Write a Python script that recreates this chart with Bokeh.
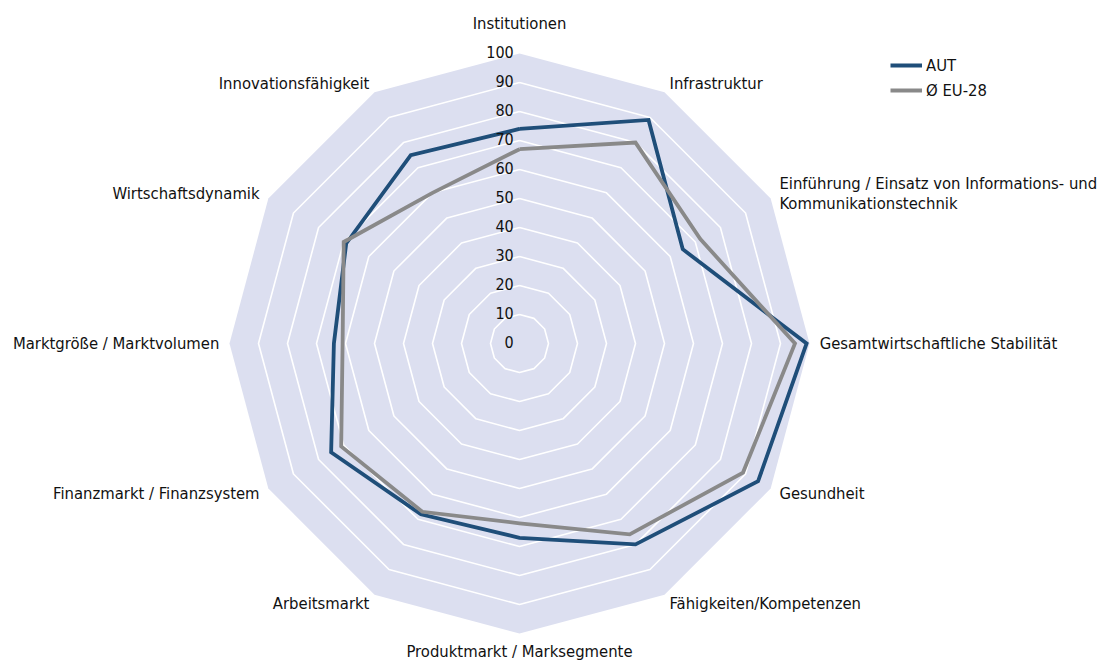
import numpy as np
from bokeh.plotting import figure
from bokeh.models import Range1d, Legend, LegendItem
from bokeh.core.properties import value
from bokeh.embed import file_html
from bokeh.resources import INLINE

categories = [
    "Institutionen",
    "Infrastruktur",
    "Einführung / Einsatz von Informations- und\n Kommunikationstechnik",
    "Gesamtwirtschaftliche Stabilität",
    "Gesundheit",
    "Fähigkeiten/Kompetenzen",
    "Produktmarkt / Marksegmente",
    "Arbeitsmarkt",
    "Finanzmarkt / Finanzsystem",
    "Marktgröße / Marktvolumen",
    "Wirtschaftsdynamik",
    "Innovationsfähigkeit",
]
aut = [74, 89, 65, 99, 95, 80, 67, 68, 75, 64, 69, 75]
eu = [67, 80, 72, 95, 89, 76, 62, 67, 71, 61, 70, 60]
ticks = [0, 10, 20, 30, 40, 50, 60, 70, 80, 90, 100]
series_names = ["AUT", "Ø EU-28"]

FONT = "DejaVu Sans Condensed, Liberation Sans Narrow, DejaVu Sans, sans-serif"
W, H = 1101, 662
S = 2.9          # px per unit
CX, CY = 519, 343   # centre in page px

n = len(categories)
ang = np.array([np.pi / 2 - 2 * np.pi * k / n for k in range(n)])

def polar(vals):
    v = np.asarray(vals, dtype=float)
    xs = v * np.cos(ang)
    ys = v * np.sin(ang)
    return list(np.append(xs, xs[0])), list(np.append(ys, ys[0]))

p = figure(width=W, height=H, output_backend="svg", toolbar_location=None,
           x_range=Range1d(-CX / S, (W - CX) / S),
           y_range=Range1d(-(H - CY) / S, CY / S),
           min_border=0)
p.axis.visible = False
p.grid.visible = False
p.outline_line_color = None
p.background_fill_color = "white"

# outer filled area
ox, oy = polar([ticks[-1]] * n)
p.patch(ox, oy, fill_color="#dcdff0", line_color=None)

# white rings
for t in ticks[1:-1]:
    rx, ry = polar([t] * n)
    p.line(rx, ry, line_color="white", line_width=1.6)

ax_, ay_ = polar(aut)
ex_, ey_ = polar(eu)
r_aut = p.line(ax_, ay_, line_color="#1f4e79", line_width=3.8, line_join="miter")
r_eu = p.line(ex_, ey_, line_color="#898989", line_width=3.8, line_join="miter")

# tick labels
p.text(x=[-2.0] * len(ticks), y=ticks, text=[str(t) for t in ticks],
       text_align="right", text_baseline="middle", y_offset=-2,
       text_font=value(FONT), text_font_size="16px", text_color="#111111")

# category labels
R = 103.5
for k, name in enumerate(categories):
    a = ang[k]
    x, y = R * np.cos(a), R * np.sin(a)
    c = np.cos(a)
    if abs(c) < 1e-6:
        align = "center"
        base = "bottom" if np.sin(a) > 0 else "top"
        if np.sin(a) > 0:
            y += 3.5
        else:
            y += 0.5
    elif c > 0:
        align, base = "left", "middle"
    else:
        align, base = "right", "middle"
    p.text(x=[x], y=[y], text=[name], text_align=align, text_baseline=base,
           text_font=value(FONT), text_font_size="16.5px", text_color="#111111",
           text_line_height=1.05)

legend = Legend(items=[LegendItem(label=series_names[0], renderers=[r_aut]),
                       LegendItem(label=series_names[1], renderers=[r_eu])],
                location=(890, 562), orientation="vertical",
                padding=0, margin=0, spacing=5, glyph_width=32, glyph_height=20,
                label_standoff=4, label_text_font=FONT, label_text_font_size="16.5px",
                label_text_color="#111111",
                border_line_color=None, background_fill_alpha=0)
p.add_layout(legend, "center")

open("out.html", "w").write(file_html(p, INLINE))
